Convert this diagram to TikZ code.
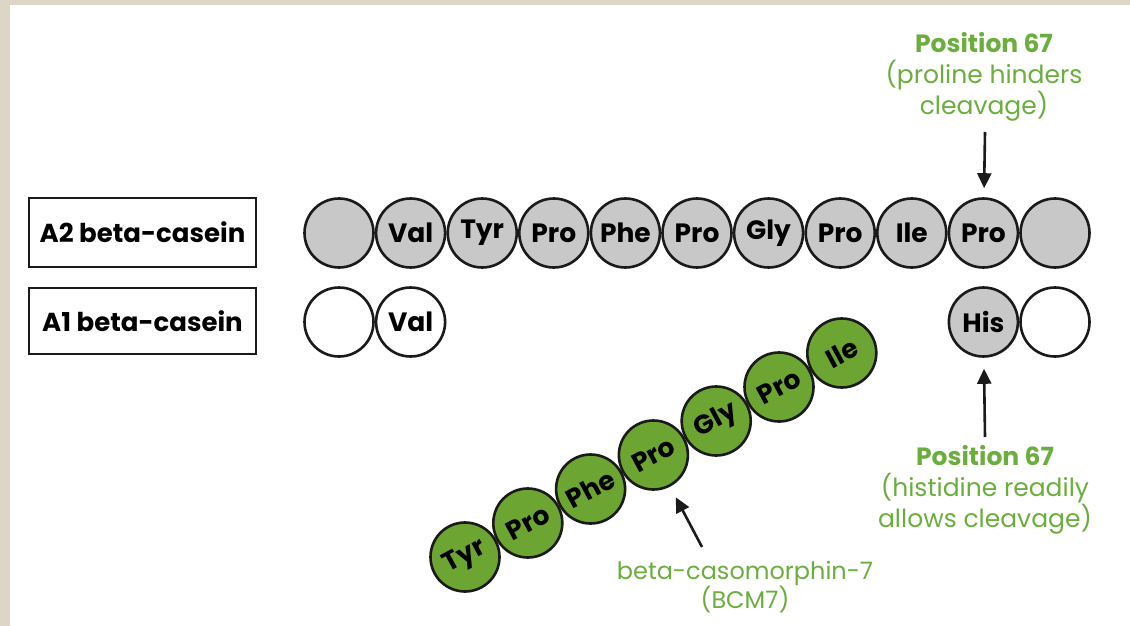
\documentclass[tikz,border=0pt]{standalone}
\usepackage{fontspec}
\setmainfont{Poppins}
\usetikzlibrary{arrows.meta}
\definecolor{beige}{HTML}{DDD5C5}
\definecolor{aagray}{HTML}{C8C8C8}
\definecolor{aagreen}{HTML}{6DA533}
\definecolor{txtgreen}{HTML}{6BAE3E}
\definecolor{ink}{HTML}{1A1A1A}
\begin{document}
\begin{tikzpicture}[x=1pt,y=-1pt,
  aa/.style={circle, draw=ink, line width=2.6pt, minimum size=69pt, inner sep=0pt,
    font=\fontsize{26.5}{26.5}\selectfont\bfseries},
  grayaa/.style={aa, fill=aagray},
  whiteaa/.style={aa, fill=white},
  greenaa/.style={aa, fill=aagreen, rotate=28.4},
  labelbox/.style={draw=ink, line width=2.4pt, minimum width=227pt, inner sep=0pt,
    font=\fontsize{26}{26}\selectfont\bfseries},
  note/.style={text=txtgreen, align=center, font=\fontsize{25}{31}\selectfont},
  pointer/.style={draw=ink, line width=2.6pt, -{Triangle[length=15pt,width=14pt]}}
]
\fill[beige] (0,0) rectangle (1130,626);
\fill[white] (10,5) rectangle (1130,626);
\useasboundingbox (0,0) rectangle (1130,626);

% label boxes
\node[labelbox, minimum height=69pt] (boxA2) at (142.5,232.5) {A2 beta-casein};
\node[labelbox, minimum height=66pt] (boxA1) at (142.5,321) {A1 beta-casein};

% A2 row
\foreach \i/\t in {0/{},1/Val,2/Tyr,3/Pro,4/Phe,5/Pro,6/Gly,7/Pro,8/Ile,9/Pro,10/{}}{
  \node[grayaa] (a\i) at ({339+71.6*\i},233) {\t};
}

% A1 row
\node[whiteaa] (b0) at (339,322) {};
\node[whiteaa] (b1) at (410.6,322) {Val};
\node[grayaa] (b9) at (983.4,322) {His};
\node[whiteaa] (b10) at (1055,322) {};

% BCM7 chain
\foreach \i/\t in {0/Tyr,1/Pro,2/Phe,3/Pro,4/Gly,5/Pro,6/Ile}{
  \node[greenaa] (g\i) at ({465+62.8*\i},{557-34*\i}) {\t};
}

% notes
\node[note] (topnote) at (984,77) {\textbf{Position 67}\\(proline hinders\\cleavage)};
\node[note] (botnote) at (985,490) {\textbf{Position 67}\\(histidine readily\\allows cleavage)};
\node[note, font=\fontsize{24}{28}\selectfont] (bcmnote) at (745,587) {beta-casomorphin-7\\(BCM7)};

% arrows
\coordinate (topTail) at (985,132);
\coordinate (botTail) at (985,437);
\coordinate (bcmTail) at (702,547);
\draw[pointer, shorten >=9pt] (topTail) -- (a9);
\draw[pointer, shorten >=11pt] (botTail) -- (b9);
\draw[pointer, shorten >=12pt] (bcmTail) -- (g3);
\end{tikzpicture}
\end{document}
